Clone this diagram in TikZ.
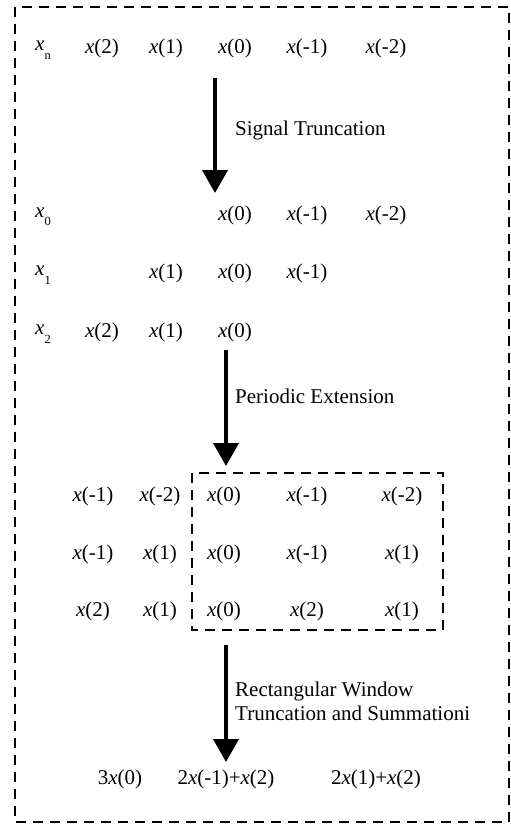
\documentclass[tikz,border=0pt]{standalone}
\usepackage{fontspec}
\setmainfont{Liberation Serif}
\usetikzlibrary{arrows.meta}
\newcommand\xv{\textit{x}}
\newcommand\sbx[1]{\textit{x}\raisebox{-0.4em}{\fontsize{12.5}{12.5}\selectfont #1}}
\begin{document}
\begin{tikzpicture}[x=1pt,y=-1pt,
  lab/.style={inner sep=0pt,font=\fontsize{21}{22}\selectfont},
  captxt/.style={inner sep=0pt,anchor=west,align=left,font=\fontsize{21}{24}\selectfont},
  bigarrow/.style={line width=4pt,-{Triangle[width=25pt,length=23pt]}},
  dashbox/.style={line width=1.6pt,dash pattern=on 10pt off 7pt}]
\useasboundingbox (0,0) rectangle (511,831);
\draw[dashbox] (15,7) rectangle (509,822);
% row xn
\node[lab] (ln) at (43,50) {\sbx{n}};
\node[lab] (a2) at (102,48) {\xv(2)};
\node[lab] (a1) at (166,48) {\xv(1)};
\node[lab] (a0) at (235,48) {\xv(0)};
\node[lab] (am1) at (307,48) {\xv(-1)};
\node[lab] (am2) at (386,48) {\xv(-2)};
% arrow 1
\coordinate (s1) at (215,78);
\coordinate (e1) at (215,193);
\draw[bigarrow] (s1) -- (e1);
\node[captxt] (t1) at (235,130) {Signal Truncation};
% row x0
\node[lab] (l0) at (43,217) {\sbx{0}};
\node[lab] (b0) at (235,215) {\xv(0)};
\node[lab] (bm1) at (307,215) {\xv(-1)};
\node[lab] (bm2) at (386,215) {\xv(-2)};
% row x1
\node[lab] (l1) at (43,275) {\sbx{1}};
\node[lab] (c1) at (166,273) {\xv(1)};
\node[lab] (c0) at (235,273) {\xv(0)};
\node[lab] (cm1) at (307,273) {\xv(-1)};
% row x2
\node[lab] (l2) at (43,334) {\sbx{2}};
\node[lab] (d2) at (102,332) {\xv(2)};
\node[lab] (d1) at (166,332) {\xv(1)};
\node[lab] (d0) at (235,332) {\xv(0)};
% arrow 2
\coordinate (s2) at (226,350);
\coordinate (e2) at (226,466);
\draw[bigarrow] (s2) -- (e2);
\node[captxt] (t2) at (235,396) {Periodic Extension};
% periodic grid
\draw[dashbox] (192,473) rectangle (443,630);
\node[lab] (g11) at (93,496) {\xv(-1)};
\node[lab] (g12) at (160,496) {\xv(-2)};
\node[lab] (g13) at (224,496) {\xv(0)};
\node[lab] (g14) at (307,496) {\xv(-1)};
\node[lab] (g15) at (402,496) {\xv(-2)};
\node[lab] (g21) at (93,554) {\xv(-1)};
\node[lab] (g22) at (160,554) {\xv(1)};
\node[lab] (g23) at (224,554) {\xv(0)};
\node[lab] (g24) at (307,554) {\xv(-1)};
\node[lab] (g25) at (402,554) {\xv(1)};
\node[lab] (g31) at (93,611) {\xv(2)};
\node[lab] (g32) at (160,611) {\xv(1)};
\node[lab] (g33) at (224,611) {\xv(0)};
\node[lab] (g34) at (307,611) {\xv(2)};
\node[lab] (g35) at (402,611) {\xv(1)};
% arrow 3
\coordinate (s3) at (226,645);
\coordinate (e3) at (226,762);
\draw[bigarrow] (s3) -- (e3);
\node[captxt] (t3) at (235,701) {Rectangular Window\\Truncation and Summationi};
% result
\node[lab] (r1) at (120,779) {3\xv(0)};
\node[lab] (r2) at (226,779) {2\xv(-1)+\xv(2)};
\node[lab] (r3) at (376,779) {2\xv(1)+\xv(2)};
\end{tikzpicture}
\end{document}
